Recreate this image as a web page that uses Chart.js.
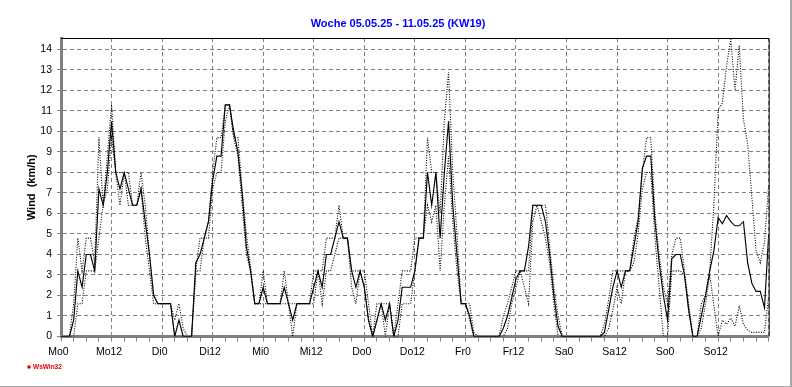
<!DOCTYPE html>
<html>
<head>
<meta charset="utf-8">
<script src="https://cdn.jsdelivr.net/npm/chart.js@4"></script>
<style>
html,body{margin:0;padding:0;background:#fff;overflow:hidden}
#wrap{position:relative;width:792px;height:387px}
#edgeR{position:absolute;left:790px;top:0;width:2px;height:387px;background:#a8a8a8}
#edgeB{position:absolute;left:0;top:386px;width:792px;height:1px;background:#a8a8a8}
canvas{position:absolute;left:0;top:0}
</style>
</head>
<body>
<div id="wrap"><canvas id="c" width="792" height="387"></canvas><div id="edgeR"></div><div id="edgeB"></div></div>
<script>
const titleText = 'Woche 05.05.25 - 11.05.25 (KW19)';
const yTitle = 'Wind  (km/h)';
const credit = 'WsWin32';
const xLabels = ['Mo0','Mo12','Di0','Di12','Mi0','Mi12','Do0','Do12','Fr0','Fr12','Sa0','Sa12','So0','So12'];
const windAvg = [
0,0,0,.8,3.2,2.4,4,4,3.2,7.2,6.4,8,10.5,8,7.2,8,7.2,6.4,6.4,7.2,5.6,4,2,1.6,
1.6,1.6,1.6,0,.8,0,0,0,3.6,4,4.8,5.6,7.6,8.8,8.8,11.3,11.3,10,9,7,4.4,3.2,1.6,1.6,
2.4,1.6,1.6,1.6,1.6,2.4,1.6,.8,1.6,1.6,1.6,1.6,2.4,3.2,2.4,4,4,4.8,5.6,4.8,4.8,3.2,2.4,3.2,
2.4,.8,0,.8,1.6,.8,1.6,0,.8,2.4,2.4,2.4,3.2,4.8,4.8,8,6.4,8,4.8,8,10.5,6.4,4,1.6,
1.6,1,0,0,0,0,0,0,0,.4,1,1.9,2.8,3.2,3.2,4.4,6.4,6.4,6.4,5.6,4,2,.5,0,
0,0,0,0,0,0,0,0,0,.2,1.3,2.4,3.2,2.4,3.2,3.2,4.4,5.6,8.2,8.8,8.8,5.6,3.6,2,
.8,3.8,4,4,3,1.3,0,0,1,2,3.2,4.2,5.8,5.5,5.9,5.6,5.4,5.4,5.6,3.6,2.6,2.2,2.2,1.4,5];
const windMax = [
0,0,0,1.6,4.8,3.2,4.8,4.8,3.6,9.7,6.4,8.8,11.3,8,8,8,8,6.4,6.4,8,6.4,4,2,1.6,
1.6,1.6,1.6,.8,1.6,.4,0,0,3.2,4.8,4.8,5.6,8,9.7,9.7,11.3,11.3,9.7,9.7,7.2,5,3.4,1.6,1.6,
3.2,1.6,1.6,1.6,1.6,3.2,1.6,1.6,1.6,1.6,1.6,1.6,3.2,3.2,3.2,4.8,4.8,4.8,6.4,4.8,4.8,3.2,3.2,3.2,
3.2,1.6,0,1.6,1.6,1.6,1.6,0,1.6,3.2,3.2,3.2,4.8,4.8,4.8,9.7,8,8,6,10.5,12.9,8,5,1.6,
1.6,1.6,.2,0,0,0,0,0,0,1,1.6,2.4,3.2,3.2,3.2,3.2,6.4,6.4,6.4,6.4,4.4,2.4,1,0,
0,0,0,0,0,0,0,0,0,.6,1.8,3.2,3.2,3.2,3.2,3.2,4.8,5.8,8,9.7,9.7,6,4,2.4,
1.6,4,4.8,4.8,3.2,1.6,0,0,1.6,2,3.2,6.5,11,11.4,13.2,14.5,12,14.2,10.6,9.4,6.8,4.2,3.6,4.6,7.4];
const windMin = [
0,0,0,0,1.6,1.6,3.2,3.2,3.2,4.8,6.4,7.2,9.7,8,6.4,8,6.4,6.4,6.4,7.2,4.8,3.2,1.6,1.6,
1.6,1.6,1.6,0,0,0,0,0,3.2,3.2,4.8,4.8,7.2,8,8,10.5,11.3,9.7,8.8,6.4,4,3.2,1.6,1.6,
1.6,1.6,1.6,1.6,1.6,1.6,1.6,0,1.6,1.6,1.6,1.6,1.6,3.2,1.6,3.2,3.2,4,4.8,4.8,4.8,2.4,1.6,3.2,
2.4,.8,0,.8,1.6,0,1.6,0,0,1.6,1.6,1.6,3.2,4.8,4.8,6.4,5.6,6.4,3.2,6.4,8.8,5.6,3.2,1.6,
1.6,.8,0,0,0,0,0,0,0,0,.4,1.6,2.4,3.2,2.4,1.6,5.6,6.4,5.6,4.8,3.6,1.6,0,0,
0,0,0,0,0,0,0,0,0,0,.4,1.3,2.4,1.6,3.2,3.2,3.6,5,7.2,8,8,4.8,2.4,0,
0,3.2,3.2,3.2,3,1.3,0,0,.4,1.6,3,1.5,0,.8,.6,.9,.5,1.5,.6,.3,.2,.2,.2,.2,2];

const toPts = a => a.map((v, i) => ({x: i, y: v}));
const GRID = '#808080';
const FONT = '"Liberation Sans", Arial, sans-serif';

const frame = {
  id: 'frame',
  beforeDatasetsDraw(ch) {
    const {ctx, chartArea: a} = ch;
    ctx.save();
    ctx.strokeStyle = GRID;
    ctx.lineWidth = 3;
    ctx.beginPath();
    ctx.moveTo(a.left - 1, a.bottom);
    ctx.lineTo(a.right, a.bottom);
    ctx.stroke();
    ctx.restore();
  },
  afterDatasetsDraw(ch) {
    const {ctx, chartArea: a} = ch;
    ctx.save();
    ctx.strokeStyle = '#000';
    ctx.lineWidth = 1;
    ctx.beginPath();
    ctx.moveTo(a.left, a.top + .5);
    ctx.lineTo(a.right + .5, a.top + .5);
    ctx.lineTo(a.right + .5, a.bottom);
    ctx.stroke();
    ctx.fillStyle = '#0000ff';
    ctx.font = 'bold 11px ' + FONT;
    ctx.textAlign = 'center';
    ctx.textBaseline = 'middle';
    ctx.fillText(titleText, 398, 24);
    ctx.textAlign = 'left';
    ctx.fillStyle = '#e00000';
    ctx.beginPath();
    ctx.arc(29, 367, 1.8, 0, Math.PI * 2);
    ctx.fill();
    ctx.font = 'bold 6.5px ' + FONT;
    ctx.fillText(credit, 33, 367.5);
    ctx.restore();
  }
};

new Chart(document.getElementById('c'), {
  type: 'line',
  data: {
    datasets: [
      {data: toPts(windMax), borderColor: '#000', borderWidth: 1.1, borderDash: [1, 1.5], pointRadius: 0, tension: 0, fill: false},
      {data: toPts(windMin), borderColor: '#000', borderWidth: 1.1, borderDash: [1, 1.5], pointRadius: 0, tension: 0, fill: false},
      {data: toPts(windAvg), borderColor: '#000', borderWidth: 1.15, pointRadius: 0, tension: 0, fill: false}
    ]
  },
  options: {
    responsive: false,
    animation: false,
    events: [],
    layout: {padding: {left: 0, right: 23.3, top: 38, bottom: 0}},
    plugins: {
      legend: {display: false},
      tooltip: {enabled: false},
      title: {display: false}
    },
    scales: {
      x: {
        type: 'linear',
        min: 0,
        max: 168,
        afterFit(s) { s.height = 50.5; },
        ticks: {
          stepSize: 3,
          autoSkip: false,
          maxRotation: 0,
          color: '#000',
          padding: 4,
          labelOffset: -2.5,
          font: {family: FONT, size: 10.5},
          callback: v => (v % 12 === 0 && v < 168) ? xLabels[v / 12] : ''
        },
        border: {display: false, dash: [4, 3]},
        grid: {
          color: c => (c.tick && c.tick.value % 12 === 0) ? GRID : 'rgba(0,0,0,0)',
          lineWidth: 1,
          drawTicks: true,
          tickLength: 5,
          tickColor: GRID,
          tickBorderDash: []
        }
      },
      y: {
        min: 0,
        max: 14.56,
        afterFit(s) { s.width = 61; },
        title: {
          display: true,
          text: yTitle,
          color: '#000',
          font: {family: FONT, size: 11, weight: 'bold'},
          padding: {top: 25, bottom: 0}
        },
        ticks: {
          stepSize: 1,
          includeBounds: false,
          color: '#000',
          padding: 5,
          font: {family: FONT, size: 10.5}
        },
        border: {color: GRID, width: 3, dash: [4, 3]},
        grid: {
          color: GRID,
          lineWidth: 1,
          tickLength: 4,
          tickColor: GRID,
          tickBorderDash: []
        }
      }
    }
  },
  plugins: [frame]
});
</script>
</body>
</html>
